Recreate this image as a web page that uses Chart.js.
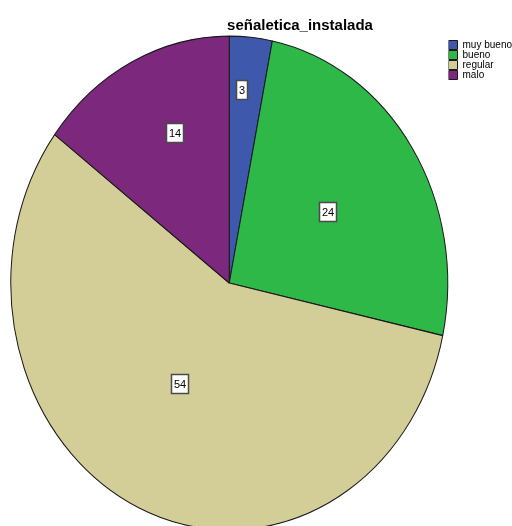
<!DOCTYPE html>
<html lang="es">
  <head>
    <meta charset="UTF-8" />
    <style>
      body { margin: 0; background: #fff; }
      #wrap { width: 512px; height: 526px; }
    </style>
  </head>
  <body>
    <div id="wrap">
      <canvas id="myChart" width="512" height="526"></canvas>
    </div>
    <script src="https://cdn.jsdelivr.net/npm/chart.js"></script>

    <script>
      var chartTitle = "señaletica_instalada";
      var categories = ["muy bueno", "bueno", "regular", "malo"];
      var counts = [3, 24, 54, 14];
      var sliceColors = ["#3e58ac", "#2eb848", "#d3ce97", "#7c287d"];

      // SPSS draws the pie a bit taller than wide
      var stretchY = 1.13;
      // where each count box sits inside its slice (share of radius / share of the slice's sweep)
      var labelRadius = [0.784, 0.536, 0.467, 0.656];
      var labelSweep = [0.38, 0.51, 0.52, 0.58];

      var ellipsePie = {
        id: "ellipsePie",
        beforeDatasetsDraw: function (chart) {
          var a = chart.chartArea;
          var cx = (a.left + a.right) / 2;
          var cy = (a.top + a.bottom) / 2;
          var ctx = chart.ctx;
          ctx.save();
          ctx.translate(cx, cy);
          ctx.scale(1, stretchY);
          ctx.translate(-cx, -cy);
        },
        afterDatasetsDraw: function (chart) {
          var ctx = chart.ctx;
          ctx.restore();

          // count boxes
          var meta = chart.getDatasetMeta(0);
          ctx.save();
          ctx.font = '11px "Liberation Sans", Arial, sans-serif';
          ctx.textAlign = "center";
          ctx.textBaseline = "middle";
          meta.data.forEach(function (arc, i) {
            var ang = arc.startAngle + (arc.endAngle - arc.startAngle) * labelSweep[i];
            var r = arc.outerRadius * labelRadius[i];
            var x = Math.round(arc.x + Math.cos(ang) * r);
            var y = Math.round(arc.y + Math.sin(ang) * r * stretchY);
            var txt = String(counts[i]);
            var w = Math.round(ctx.measureText(txt).width + 5);
            var h = 19;
            ctx.fillStyle = "#ffffff";
            ctx.fillRect(x - w / 2, y - h / 2, w, h);
            ctx.lineWidth = 1.5;
            ctx.strokeStyle = "#4a4a4a";
            ctx.strokeRect(x - w / 2, y - h / 2, w, h);
            ctx.fillStyle = "#000000";
            ctx.fillText(txt, x, y + 1);
          });
          ctx.restore();
        },
        afterDraw: function (chart) {
          var ctx = chart.ctx;
          ctx.save();
          ctx.font = 'bold 15px "Liberation Sans", Arial, sans-serif';
          ctx.fillStyle = "#000000";
          ctx.textAlign = "center";
          ctx.textBaseline = "alphabetic";
          ctx.fillText(chartTitle, 300, 30);
          ctx.restore();
        },
      };

      var ctx = document.getElementById("myChart").getContext("2d");
      var chart = new Chart(ctx, {
        type: "pie",
        data: {
          labels: categories,
          datasets: [
            {
              data: counts,
              backgroundColor: sliceColors,
              borderColor: "#1a1a1a",
              borderWidth: 1,
            },
          ],
        },
        plugins: [ellipsePie],
        options: {
          responsive: false,
          animation: false,
          radius: 218.5,
          layout: {
            padding: { top: 40, left: 10, right: -10, bottom: 0 },
          },
          plugins: {
            title: { display: false },
            tooltip: { enabled: false },
            legend: {
              position: "right",
              align: "start",
              labels: {
                boxWidth: 9,
                boxHeight: 9,
                padding: 0,
                color: "#000000",
                font: { family: '"Liberation Sans", Arial, sans-serif', size: 10 },
              },
            },
          },
        },
      });
    </script>
  </body>
</html>
